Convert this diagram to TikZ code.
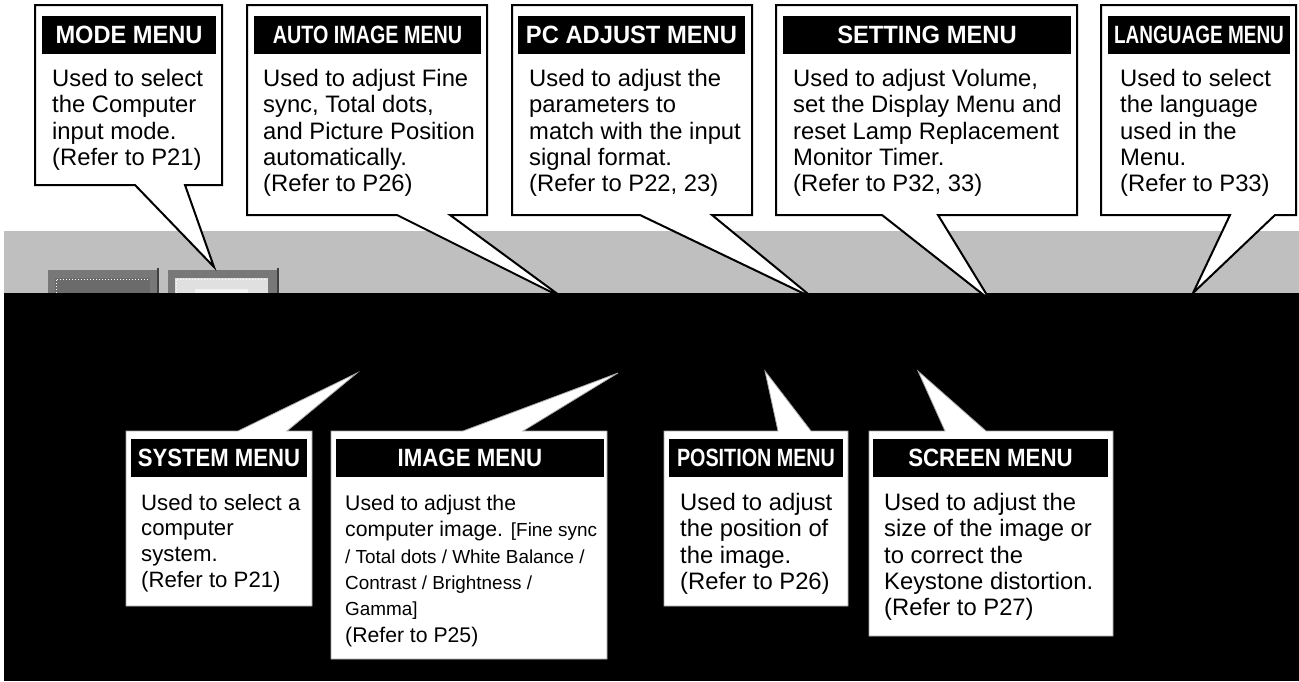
\documentclass[tikz,border=0pt]{standalone}
\usepackage{fontspec}
\usepackage{graphicx}
\setmainfont{Liberation Sans}
\newcommand\bodyfont{\fontsize{23.8}{26.3}\selectfont}
\newcommand\sysfont{\fontsize{22.2}{25.7}\selectfont}
\newcommand\imgfont{\fontsize{21.2}{26.3}\selectfont}
\newcommand\smallbody{\fontsize{18.9}{26.3}\selectfont}
\newcommand\headfont{\bfseries\fontsize{25}{30}\selectfont}
\definecolor{band}{gray}{0.75}
\tikzset{
  topcall/.style={draw=black, line width=2pt, fill=white, line join=miter},
  botcall/.style={draw=black!35, line width=0.8pt, fill=white},
  menuhead/.style={fill=black, text=white, minimum height=38pt, inner sep=0pt, font=\headfont},
  menutext/.style={anchor=north west, align=left, inner sep=0pt, font=\bodyfont},
}
\begin{document}
\begin{tikzpicture}[x=1pt, y=-1pt]
                \useasboundingbox (0,0) rectangle (1299,681);
                \fill[band] (4,231) rectangle (1299,293);
                \fill[black] (4,293) rectangle (1299,681);
                \fill[black!53] (48,270) rectangle (158,293);
                \fill[black!58] (55,278) rectangle (150,293);
                \draw[white, dotted, line width=1pt] (56,293) -- (56,279) -- (149,279);
                \draw[black!75, line width=1.5pt] (158,268) -- (158,293);
                \fill[black!53] (168,270) rectangle (278,293);
                \fill[black!12] (175,278) rectangle (268,293);
                \fill[black!5] (195,289) rectangle (248,293);
                \draw[white, dotted, line width=1pt] (176,293) -- (176,279) -- (267,279);
                \draw[black!75, line width=1.5pt] (278,268) -- (278,293);
                \coordinate (modetip) at (214,267);
                \coordinate (autotip) at (563,298);
                \coordinate (pctip) at (813,298);
                \coordinate (settip) at (990,300);
                \coordinate (langtip) at (1193,293);
                \coordinate (systip) at (357,373);
                \coordinate (imgtip) at (618,373);
                \coordinate (postip) at (765,371);
                \coordinate (scrtip) at (918,371);
                \draw[topcall] (35,5) -- (222,5) -- (222,185) -- (185,185) -- (modetip) -- (135,185) -- (35,185) -- cycle;
                \draw[topcall] (247,5) -- (487,5) -- (487,215) -- (450,215) -- (autotip) -- (397,215) -- (247,215) -- cycle;
                \draw[topcall] (512,5) -- (752,5) -- (752,215) -- (712,215) -- (pctip) -- (640,215) -- (512,215) -- cycle;
                \draw[topcall] (776,5) -- (1077,5) -- (1077,215) -- (938,215) -- (settip) -- (882,215) -- (776,215) -- cycle;
                \draw[topcall] (1101,5) -- (1296,5) -- (1296,215) -- (1275,215) -- (langtip) -- (1230,215) -- (1101,215) -- cycle;
                \draw[botcall] (126,431) -- (238,431) -- (systip) -- (287,431) -- (312,431) -- (312,606) -- (126,606) -- cycle;
                \draw[botcall] (331,431) -- (463,431) -- (imgtip) -- (523,431) -- (607,431) -- (607,659) -- (331,659) -- cycle;
                \draw[botcall] (664,431) -- (778,431) -- (postip) -- (811,431) -- (848,431) -- (848,606) -- (664,606) -- cycle;
                \draw[botcall] (869,431) -- (945,431) -- (scrtip) -- (986,431) -- (1113,431) -- (1113,636) -- (869,636) -- cycle;
                \node[menuhead, minimum width=174pt] (modehead) at (129,35) {\scalebox{0.945}[1]{MODE MENU}};
                \node[menuhead, minimum width=227pt] (autohead) at (367.5,35) {\scalebox{0.79}[1]{AUTO IMAGE MENU}};
                \node[menuhead, minimum width=227pt] (pchead) at (631.5,35) {\scalebox{0.95}[1]{PC ADJUST MENU}};
                \node[menuhead, minimum width=288pt] (sethead) at (927,35) {\scalebox{0.95}[1]{SETTING MENU}};
                \node[menuhead, minimum width=182pt] (langhead) at (1199,35) {\scalebox{0.76}[1]{LANGUAGE MENU}};
                \node[menuhead, minimum width=176pt] (syshead) at (219,458) {\scalebox{0.885}[1]{SYSTEM MENU}};
                \node[menuhead, minimum width=268pt] (imghead) at (470,458) {\scalebox{0.89}[1]{IMAGE MENU}};
                \node[menuhead, minimum width=174pt] (poshead) at (756,458) {\scalebox{0.79}[1]{POSITION MENU}};
                \node[menuhead, minimum width=235pt] (scrhead) at (990.5,458) {\scalebox{0.89}[1]{SCREEN MENU}};
                \node[menutext] (modetext) at (52,69) {Used to select\\the Computer\\input mode.\\(Refer to P21)};
                \node[menutext] (autotext) at (263,69) {Used to adjust Fine\\sync, Total dots,\\and Picture Position\\automatically.\\(Refer to P26)};
                \node[menutext] (pctext) at (529,69) {Used to adjust the\\parameters to\\match with the input\\signal format.\\(Refer to P22, 23)};
                \node[menutext] (settext) at (793,69) {Used to adjust Volume,\\set the Display Menu and\\reset Lamp Replacement\\Monitor Timer.\\(Refer to P32, 33)};
                \node[menutext] (langtext) at (1120,69) {Used to select\\the language\\used in the\\Menu.\\(Refer to P33)};
                \node[menutext, font=\sysfont] (systext) at (141,494) {Used to select a\\computer\\system.\\(Refer to P21)};
                \node[menutext, font=\imgfont] (imgtext) at (345,495) {Used to adjust the\\computer image. {\smallbody[Fine sync}\\{\smallbody/ Total dots / White Balance /}\\{\smallbody Contrast / Brightness /}\\{\smallbody Gamma]}\\(Refer to P25)};
                \node[menutext] (postext) at (680,493) {Used to adjust\\the position of\\the image.\\(Refer to P26)};
                \node[menutext] (scrtext) at (884,493) {Used to adjust the\\size of the image or\\to correct the\\Keystone distortion.\\(Refer to P27)};
\end{tikzpicture}
\end{document}
